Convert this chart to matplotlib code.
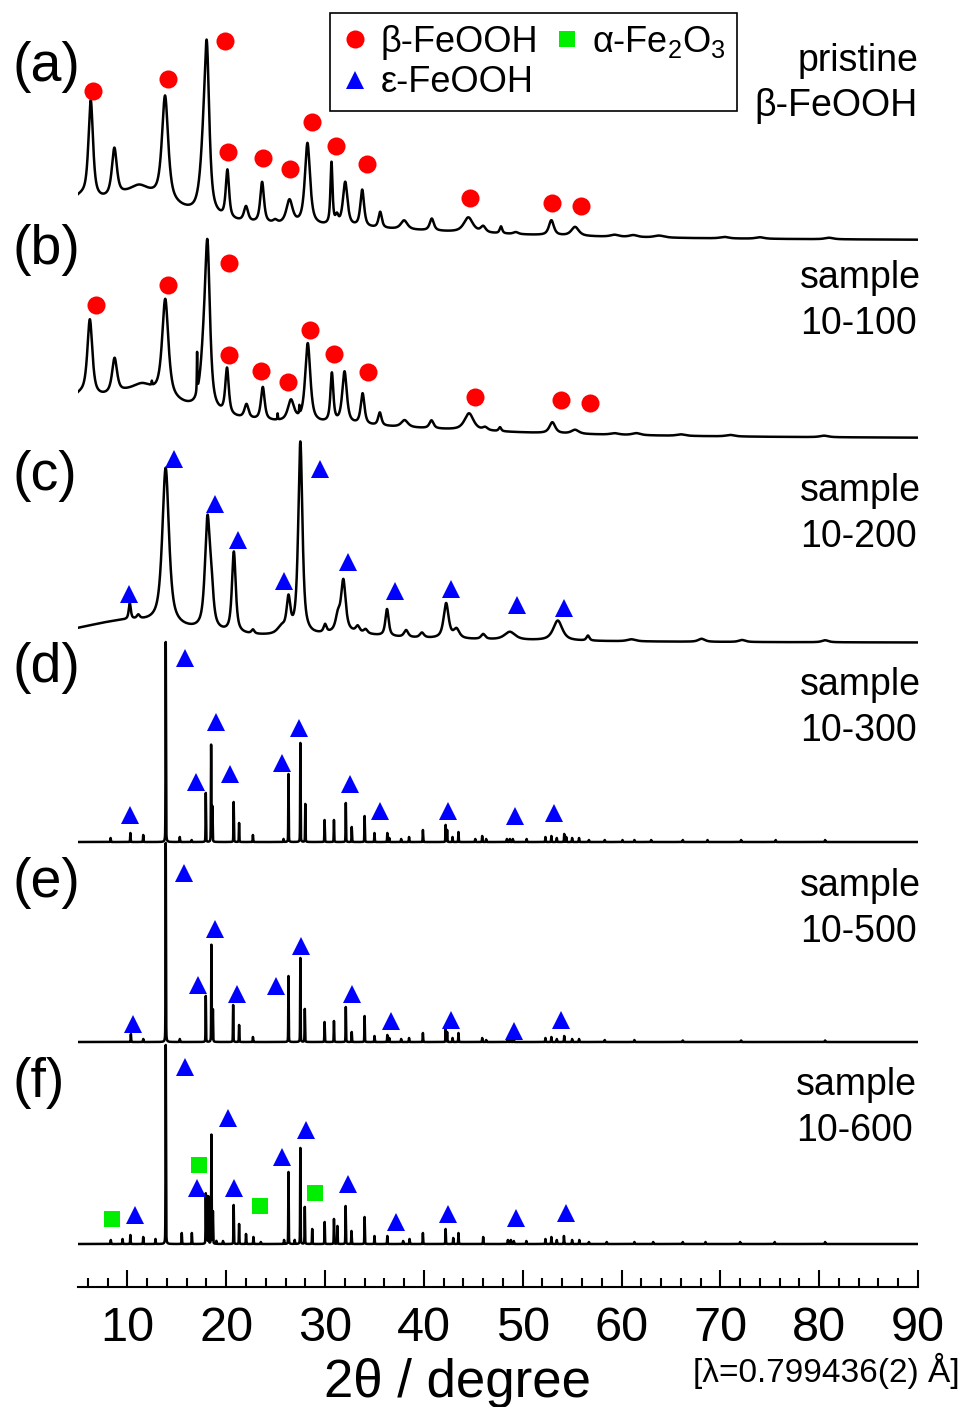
import numpy as np
import matplotlib
matplotlib.use("Agg")
import matplotlib.pyplot as plt
from matplotlib.ticker import MultipleLocator

plt.rcParams["font.family"] = ["Liberation Sans", "DejaVu Sans"]
plt.rcParams["mathtext.fontset"] = "custom"
plt.rcParams["mathtext.rm"] = "Liberation Sans"
plt.rcParams["mathtext.it"] = "Liberation Sans:italic"

# 2theta grid shared by all patterns
two_theta = np.linspace(5, 90, 17001)

# stacking offsets (intensity units) for each pattern
offsets = {"a": 1046, "b": 848, "c": 644, "d": 445, "e": 245, "f": 43}

# broad backgrounds: (center, height, fwhm)
bkg_a = [(5.0, 21, 4.0), (11.0, 39, 11.0), (30.0, 11, 40.0)]
bkg_b = [(5.0, 19, 4.0), (11.0, 40, 12.0), (30.0, 11, 40.0)]
bkg_c = [(10.0, 21, 14.0), (32.5, 5, 6.0), (35.0, 3, 40.0)]

# reflections: (2theta, height, fwhm)
peaks_a = [
    (6.29, 98, 0.55), (8.68, 48, 0.6), (11.2, 7, 2.0), (13.81, 105, 0.75),
    (17.65, 40, 0.8), (18.03, 155, 0.6), (20.12, 48, 0.4), (22.0, 15, 0.5),
    (23.63, 41, 0.45), (24.95, 3, 0.5), (26.4, 24, 0.75), (28.22, 82, 0.62),
    (30.65, 62, 0.25), (31.2, 8, 0.35), (32.04, 44, 0.55), (33.76, 37, 0.45),
    (35.58, 16, 0.4), (38.0, 9, 0.8), (40.8, 12, 0.5), (44.5, 15, 1.1),
    (46.0, 6, 0.6), (47.8, 7, 0.3), (49.3, 2, 0.6), (52.9, 15, 0.6),
    (55.3, 9, 0.9), (59.3, 2, 1.0), (61.2, 2, 1.0), (63.8, 2, 1.2),
    (70.4, 1.5, 1.0), (74.0, 1.5, 1.0), (81.0, 1.5, 1.0),
]
peaks_b = [
    (6.2, 76, 0.6), (8.7, 35, 0.6), (11.5, 6, 2.0), (12.47, 4, 0.06),
    (13.83, 98, 0.75), (17.05, 39, 0.06), (17.7, 40, 0.8), (18.1, 153, 0.6),
    (20.08, 46, 0.42), (22.05, 14, 0.5), (23.7, 33, 0.45), (25.2, 6, 0.06),
    (26.55, 21, 0.75), (27.4, 8, 0.06), (28.25, 79, 0.62), (30.69, 49, 0.35),
    (31.97, 52, 0.55), (33.8, 31, 0.45), (35.54, 13, 0.4), (38.05, 7, 0.8),
    (40.77, 8, 0.5), (44.57, 17, 1.1), (46.2, 3, 0.6), (47.7, 4, 0.3),
    (53.0, 11, 0.7), (55.3, 4, 0.9), (59.3, 1.5, 1.0), (61.5, 2, 1.0),
    (66.0, 1.5, 1.0), (71.0, 1.5, 1.0), (80.5, 1.5, 1.0),
]
peaks_c = [
    (10.24, 16, 0.25), (11.1, 4, 0.35), (13.87, 157, 0.8), (18.1, 108, 0.6),
    (18.5, 30, 0.5), (20.77, 81, 0.45), (22.7, 4, 0.35), (25.6, 7, 1.0),
    (26.3, 33, 0.45), (27.5, 193, 0.5), (30.0, 8, 0.35), (31.3, 15, 0.55),
    (31.85, 51, 0.55), (33.3, 6, 0.45), (34.1, 4, 0.45), (36.27, 27, 0.4),
    (38.2, 7, 0.5), (39.8, 5, 0.5), (42.25, 35, 0.6), (43.3, 9, 0.7),
    (46.0, 5, 0.5), (48.7, 8, 1.3), (53.55, 20, 1.1), (56.6, 5, 0.35),
    (61.0, 2, 1.0), (68.1, 3, 0.8), (72.2, 2, 0.8), (80.6, 2, 0.8),
]
# well-crystallised samples: sharp lines, (2theta, height)
lines_d = [
    (8.3, 4), (10.3, 9), (11.6, 7), (13.88, 200), (15.3, 5), (16.5, 2),
    (17.93, 49), (18.47, 97), (18.6, 35), (20.75, 40), (21.3, 19), (22.7, 7),
    (25.8, 3), (26.3, 68), (27.5, 99), (28.0, 38), (29.95, 22), (30.9, 22),
    (32.1, 39), (32.7, 15), (34.0, 26), (35.0, 9), (36.3, 9), (36.5, 4),
    (37.7, 3), (38.5, 5), (39.9, 12), (42.2, 17), (42.35, 12), (42.9, 5),
    (43.5, 10), (45.2, 3), (45.9, 6), (46.3, 3), (48.4, 3), (48.7, 3),
    (49.0, 3), (50.4, 3), (52.3, 5), (52.9, 6), (53.45, 4), (54.2, 8),
    (54.4, 5), (55.0, 4), (55.7, 4), (56.7, 2), (58.3, 2), (60.1, 2),
    (61.3, 2), (63.0, 2), (66.2, 2), (68.7, 2), (72.1, 2), (75.6, 2), (80.6, 2),
]
lines_e = [
    (10.35, 8), (11.6, 3), (13.88, 199), (15.3, 3), (17.93, 46), (18.5, 97),
    (18.65, 32), (20.7, 37), (21.3, 17), (22.7, 5), (26.3, 66), (27.5, 84),
    (27.95, 33), (29.95, 20), (30.9, 21), (32.1, 35), (32.7, 10), (34.0, 26),
    (35.0, 6), (36.3, 7), (36.5, 4), (37.7, 3), (38.5, 4), (39.9, 9),
    (42.2, 13), (42.35, 10), (42.9, 4), (43.5, 9), (45.9, 4), (46.3, 2),
    (48.5, 3), (48.8, 3), (49.1, 2), (52.3, 4), (52.9, 5), (53.45, 3),
    (54.2, 6), (55.0, 3), (55.7, 3), (58.3, 2), (61.3, 2), (66.2, 1.5),
    (72.1, 1.5), (80.6, 1.5),
]
lines_f = [
    (8.32, 4), (9.51, 5), (10.3, 9), (11.6, 7), (12.84, 5), (13.88, 199),
    (15.5, 11), (16.52, 11), (17.93, 50), (18.05, 47), (18.2, 47), (18.5, 109),
    (18.65, 32), (19.0, 3), (19.67, 3), (20.75, 39), (21.3, 20), (22.0, 10),
    (22.75, 7), (23.5, 2), (25.85, 4), (26.3, 72), (26.93, 4), (27.5, 96),
    (27.95, 37), (28.7, 15), (29.96, 22), (30.9, 25), (31.25, 18), (32.08, 38),
    (32.67, 13), (34.0, 27), (35.0, 8), (36.3, 8), (37.9, 3), (38.55, 5),
    (39.9, 11), (42.2, 15), (42.97, 6), (43.5, 11), (46.0, 7), (48.5, 4),
    (48.8, 4), (49.1, 3), (50.37, 3), (52.3, 5), (52.9, 7), (53.45, 4),
    (54.17, 8), (55.0, 4), (55.73, 4), (56.7, 2), (58.5, 2), (61.3, 2),
    (63.2, 2), (66.2, 2), (68.5, 2), (72.0, 2), (75.5, 2), (80.6, 2),
]
line_fwhm = 0.05

# phase markers: (2theta, intensity)
beta_a = [(6.49, 1196), (14.14, 1208), (19.89, 1246), (20.22, 1135),
          (23.73, 1129), (26.47, 1118), (28.67, 1165), (31.06, 1141),
          (34.24, 1123), (44.63, 1089), (53.0, 1084), (55.94, 1081)]
beta_b = [(6.78, 982), (14.14, 1002), (20.23, 1024), (20.23, 932),
          (23.52, 916), (26.24, 905), (28.44, 957), (30.88, 933),
          (34.3, 915), (45.22, 890), (53.87, 887), (56.85, 884)]
eps_c = [(10.19, 693), (14.69, 828), (18.83, 783), (21.23, 747),
         (25.89, 706), (29.53, 818), (32.36, 725), (37.12, 696),
         (42.71, 698), (49.41, 682), (54.17, 679)]
eps_d = [(10.27, 472), (15.84, 629), (16.99, 505), (18.94, 565),
         (20.39, 513), (25.64, 524), (27.34, 559), (32.54, 503),
         (35.58, 476), (42.42, 476), (49.25, 471), (53.12, 474)]
eps_e = [(10.52, 263), (15.69, 414), (17.1, 302), (18.87, 358),
         (21.08, 293), (24.99, 301), (27.58, 341), (32.69, 293),
         (36.7, 266), (42.77, 267), (49.11, 256), (53.85, 267)]
eps_f = [(10.73, 72), (15.84, 220), (17.03, 99), (20.21, 169),
         (20.83, 99), (25.67, 130), (28.03, 157), (32.29, 103),
         (37.17, 65), (42.49, 73), (49.29, 69), (54.42, 74)]
alpha_f = [(8.42, 68), (17.21, 122), (23.43, 81), (29.0, 94)]


def pseudo_voigt(x, center, height, fwhm, eta):
    u = (x - center) / (fwhm / 2)
    return height * (eta / (1 + u ** 2) + (1 - eta) * np.exp(-np.log(2) * u ** 2))


def build_pattern(peaks, background, offset, eta=0.75):
    y = np.full_like(two_theta, float(offset))
    for c, h, w in background:
        y += h / (1 + ((two_theta - c) / (w / 2)) ** 2)
    for c, h, w in peaks:
        y += pseudo_voigt(two_theta, c, h, w, eta)
    return y


def sharp(lines):
    return [(c, h, line_fwhm) for c, h in lines]


patterns = {
    "a": build_pattern(peaks_a, bkg_a, offsets["a"]),
    "b": build_pattern(peaks_b, bkg_b, offsets["b"]),
    "c": build_pattern(peaks_c, bkg_c, offsets["c"]),
    "d": build_pattern(sharp(lines_d), [], offsets["d"], eta=0.3),
    "e": build_pattern(sharp(lines_e), [], offsets["e"], eta=0.3),
    "f": build_pattern(sharp(lines_f), [], offsets["f"], eta=0.3),
}

W, H = 966, 1407
fig = plt.figure(figsize=(W / 100, H / 100), dpi=100)
ax = fig.add_axes([78 / W, 120 / H, 840 / W, 1287 / H])

for key, y in patterns.items():
    ax.plot(two_theta, y, color="black", lw=1.8, zorder=2)

marker_style = dict(linestyle="none", markeredgewidth=0, zorder=3)
h_beta = None
for pts in (beta_a, beta_b):
    x, y = zip(*pts)
    h_beta, = ax.plot(x, y, marker="o", ms=13, color="#ff0000", **marker_style)
h_eps = None
for pts in (eps_c, eps_d, eps_e, eps_f):
    x, y = zip(*pts)
    h_eps, = ax.plot(x, y, marker="^", ms=13, color="#0000ff", **marker_style)
x, y = zip(*alpha_f)
h_alpha, = ax.plot(x, y, marker="s", ms=11, color="#00ee00", **marker_style)

ax.set_xlim(5, 90)
ax.set_ylim(0, 1287)
for side in ("left", "right", "top"):
    ax.spines[side].set_visible(False)
ax.spines["bottom"].set_linewidth(1.5)
ax.set_yticks([])
ax.xaxis.set_major_locator(MultipleLocator(10))
ax.xaxis.set_minor_locator(MultipleLocator(2))
ax.tick_params(axis="x", which="major", direction="in", length=12, width=1.5,
               labelsize=35, pad=14)
ax.tick_params(axis="x", which="minor", direction="in", length=6.5, width=1.5)

ax.set_xlabel("2θ / degree", fontsize=38)
ax.xaxis.label.set_va("baseline")
ax.xaxis.set_label_coords((457 - 78) / 840, (1287 - 1397) / 1287)

fig.text(960 / W, 1 - 1371 / H, "[λ=0.799436(2) Å]", fontsize=24,
         ha="right", va="center")

leg = ax.legend([h_beta, h_eps, h_alpha],
                ["β-FeOOH", "ε-FeOOH", "α-Fe$_2$O$_3$"],
                ncol=2, loc="upper left", bbox_to_anchor=(330 / W, 1 - 13 / H),
                bbox_transform=fig.transFigure, borderaxespad=0, fontsize=26,
                handlelength=0.8, handletextpad=0.3, columnspacing=0.4,
                labelspacing=0.15, borderpad=0.3, fancybox=False, framealpha=1)
leg.get_frame().set_edgecolor("black")
leg.get_frame().set_linewidth(1.2)

# panel letters
for label, ypix in zip("abcdef", [67, 250, 476, 668, 883, 1083]):
    fig.text(12 / W, 1 - ypix / H, f"({label})", fontsize=40, ha="left", va="center")

# sample names
fig.text(918 / W, 1 - 71 / H, "pristine", fontsize=27, ha="right", va="baseline")
fig.text(918 / W, 1 - 116 / H, "β-FeOOH", fontsize=27, ha="right", va="baseline")
names = ["10-100", "10-200", "10-300", "10-500", "10-600"]
base_y = [288, 501, 695, 896, 1095]
left_x = [800, 800, 800, 800, 796]
for name, yb, xl in zip(names, base_y, left_x):
    fig.text(xl / W, 1 - yb / H, "sample", fontsize=27, ha="left", va="baseline")
    fig.text(xl / W, 1 - (yb + 46) / H, name, fontsize=27, ha="left", va="baseline")

fig.savefig("out.png", dpi=100)
